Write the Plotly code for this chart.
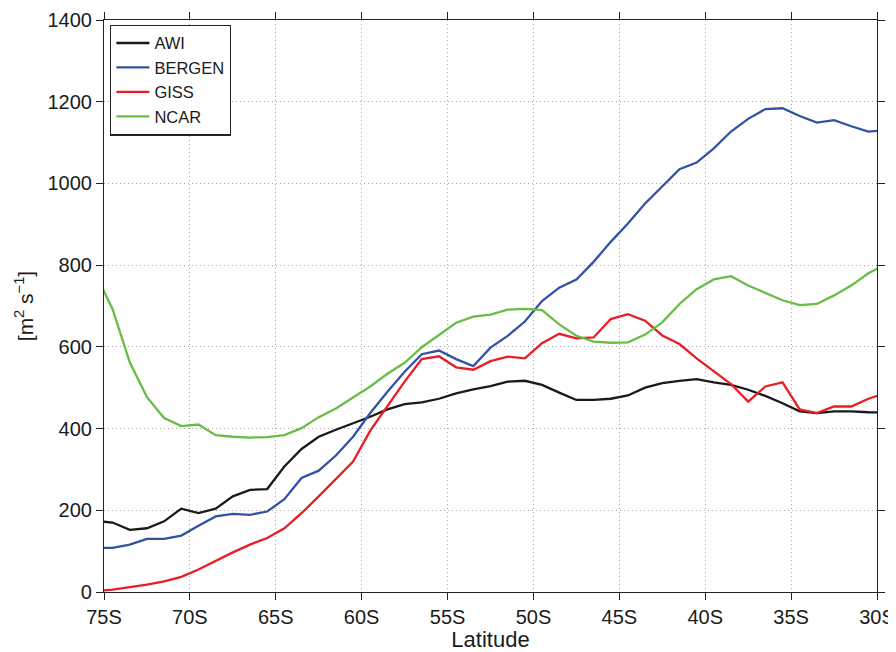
import plotly.graph_objects as go

# latitude (negative = south), data at half-degree centres
lat = [-75.5 + i for i in range(47)]

awi = [174, 170, 152, 156, 173, 204, 193, 204, 234, 250, 252, 307, 350, 380, 397, 413, 429,
       447, 460, 464, 473, 486, 496, 504, 515, 517, 507, 488, 470, 470, 473, 481, 500,
       511, 517, 521, 513, 507, 495, 480, 462, 442, 438, 442, 442, 440, 439]
bergen = [108, 108, 116, 130, 130, 138, 162, 185, 191, 189, 197, 227, 279, 297, 334, 380, 438,
          490, 539, 582, 591, 570, 553, 598, 627, 662, 712, 745, 765, 808, 857, 902, 951,
          992, 1035, 1051, 1086, 1127, 1158, 1182, 1184, 1165, 1149, 1155, 1140, 1127, 1130]
giss = [2, 6, 12, 18, 26, 37, 55, 77, 97, 116, 132, 156, 193, 234, 277, 319, 395,
        456, 515, 570, 577, 550, 544, 565, 576, 572, 609, 632, 621, 623, 668, 680, 664,
        628, 607, 572, 540, 509, 466, 503, 513, 447, 438, 454, 454, 473, 487]
ncar = [780, 692, 562, 477, 426, 406, 410, 384, 380, 378, 379, 384, 401, 428, 449, 475, 503,
        534, 561, 599, 629, 659, 674, 679, 691, 693, 690, 655, 627, 613, 610, 611, 630,
        660, 705, 741, 765, 773, 750, 733, 714, 702, 705, 726, 750, 780, 802]

names = ['AWI', 'BERGEN', 'GISS', 'NCAR']
colors = ['#1a1a1a', '#3452a4', '#ec1c24', '#68bd45']
tick_vals = [-75, -70, -65, -60, -55, -50, -45, -40, -35, -30]
tick_text = ['75S', '70S', '65S', '60S', '55S', '50S', '45S', '40S', '35S', '30S']

fig = go.Figure()
for name, ys, c in zip(names, [awi, bergen, giss, ncar], colors):
    fig.add_trace(go.Scatter(x=lat, y=ys, name=name, mode='lines',
                             line=dict(color=c, width=2.3)))

axis_common = dict(
    showline=True, linecolor='#222222', linewidth=1.2, mirror='allticks',
    ticks='outside', ticklen=7, tickcolor='#222222', tickwidth=1.2,
    showgrid=True, gridcolor='#a8a8a8', griddash='1px,3px', gridwidth=1,
    zeroline=False, tickfont=dict(size=20, color='#1a1a1a'), automargin=False,
)

# page body has an 8px margin, so the figure is 8px smaller than the window
fig.update_layout(
    width=888, height=644,
    margin=dict(l=96, r=19, t=12, b=60),
    plot_bgcolor='white', paper_bgcolor='white',
    font=dict(family='Liberation Sans, Arial, sans-serif', color='#1a1a1a'),
    xaxis=dict(range=[-75, -30], tickvals=tick_vals, ticktext=tick_text,
               title=dict(text='Latitude', font=dict(size=22), standoff=0),
               **axis_common),
    yaxis=dict(range=[0, 1400], dtick=200,
               title=dict(text='[m<sup>2</sup> s<sup>−1</sup>]', font=dict(size=21), standoff=8),
               **axis_common),
    legend=dict(x=0.008, y=0.992, xanchor='left', yanchor='top',
                bgcolor='white', bordercolor='#222222', borderwidth=1.2,
                font=dict(size=16.5), tracegroupgap=0, itemwidth=33),
    showlegend=True,
)

fig.write_html("out.html")
